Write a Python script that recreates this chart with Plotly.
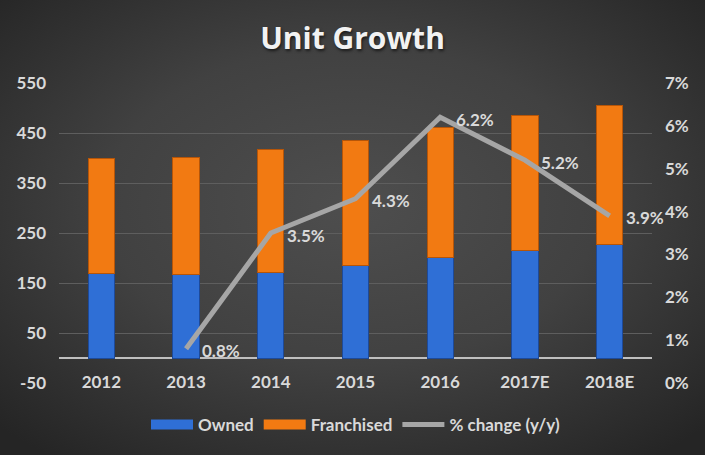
import base64
import plotly.graph_objects as go

years = ["2012", "2013", "2014", "2015", "2016", "2017E", "2018E"]
owned = [170, 167, 171, 185, 201, 215, 228]
franchised = [230, 235, 246, 250, 260, 271, 278]
pct_years = ["2013", "2014", "2015", "2016", "2017E", "2018E"]
pct_change = [0.8, 3.5, 4.3, 6.2, 5.2, 3.9]
left_ticks = [-50, 50, 150, 250, 350, 450, 550]
right_ticks = [0, 1, 2, 3, 4, 5, 6, 7]

TXT = "#d9d9d9"
FONT = "Lato"
BLUE, BLUE_EDGE = "#2f6fd6", "#1d4a9a"
ORANGE, ORANGE_EDGE = "#f27a12", "#b65508"
W, H = 705, 455
ML, MR, MT, MB = 59, 53, 83, 72
PW, PH = W - ML - MR, H - MT - MB

svg = """<svg xmlns='http://www.w3.org/2000/svg' width='705' height='455' preserveAspectRatio='none'>
<defs><radialGradient id='g' cx='50%' cy='45%' r='70%'>
<stop offset='0%' stop-color='#4e4e4e'/><stop offset='50%' stop-color='#414141'/>
<stop offset='100%' stop-color='#252525'/></radialGradient></defs>
<rect width='705' height='455' fill='url(#g)'/></svg>"""
bg = "data:image/svg+xml;base64," + base64.b64encode(svg.encode()).decode()

fig = go.Figure()
fig.add_bar(x=years, y=owned, name="Owned", legendgroup="owned", showlegend=False,
            marker=dict(color=BLUE, line=dict(color=BLUE_EDGE, width=1)))
fig.add_bar(x=years, y=franchised, name="Franchised", legendgroup="fr", showlegend=False,
            marker=dict(color=ORANGE, line=dict(color=ORANGE_EDGE, width=1)))
# legend swatches (wide, like the reference)
fig.add_scatter(x=[None], y=[None], mode="lines", name="Owned", legendgroup="owned",
                line=dict(color=BLUE, width=10))
fig.add_scatter(x=[None], y=[None], mode="lines", name="Franchised", legendgroup="fr",
                line=dict(color=ORANGE, width=10))
fig.add_scatter(x=pct_years, y=pct_change, name="% change (y/y)", yaxis="y2",
                mode="lines", line=dict(color="#a6a6a6", width=5))

annotations = [dict(x=years.index(x), y=v, xref="x", yref="y2", text=f"{v:.1f}%",
                    showarrow=False, xanchor="left", yanchor="middle",
                    xshift=14, yshift=-2,
                    font=dict(family=FONT, size=17, color=TXT, weight=700))
               for x, v in zip(pct_years, pct_change)]

fig.update_layout(
    width=W, height=H,
    margin=dict(l=ML, r=MR, t=MT, b=MB),
    paper_bgcolor="#3a3a3a", plot_bgcolor="rgba(0,0,0,0)",
    images=[dict(source=bg, xref="paper", yref="paper",
                 x=-ML / PW, y=1 + MT / PH, sizex=W / PW, sizey=H / PH,
                 sizing="stretch", layer="below", xanchor="left", yanchor="top")],
    annotations=annotations,
    barmode="stack", bargap=0.69,
    title=dict(text="Unit Growth", x=0.5, xanchor="center", y=1 - 38 / H, yanchor="middle",
               font=dict(family="Open Sans", size=30, color="#f2f2f2", weight=700,
                         shadow="1px 2px 3px rgba(0,0,0,0.6)")),
    showlegend=True,
    legend=dict(orientation="h", x=0.5, xanchor="center", y=-0.14, yanchor="middle",
                font=dict(family=FONT, size=17, color=TXT, weight=700),
                bgcolor="rgba(0,0,0,0)", traceorder="normal", itemwidth=42),
    xaxis=dict(type="category", categoryorder="array", categoryarray=years,
               range=[-0.5, len(years) - 0.5],
               showgrid=False, showline=False, ticks="",
               tickfont=dict(family=FONT, size=17, color=TXT, weight=700),
               ticklabelstandoff=-13),
    yaxis=dict(range=[-50, 550], tickvals=left_ticks,
               ticktext=[str(v) for v in left_ticks], showgrid=True,
               gridcolor="#5e5e5e", gridwidth=1,
               zeroline=True, zerolinecolor="#bfbfbf", zerolinewidth=2,
               tickfont=dict(family=FONT, size=17, color=TXT, weight=700),
               ticklabelstandoff=12),
    yaxis2=dict(range=[0, 7], tickvals=right_ticks,
                ticktext=[f"{v}%" for v in right_ticks],
                overlaying="y", side="right", showgrid=False, zeroline=False,
                tickfont=dict(family=FONT, size=17, color=TXT, weight=700),
                ticklabelstandoff=12),
)

fig.write_html("out.html", config={"displayModeBar": False},
               post_script="document.body.style.margin='0';")
